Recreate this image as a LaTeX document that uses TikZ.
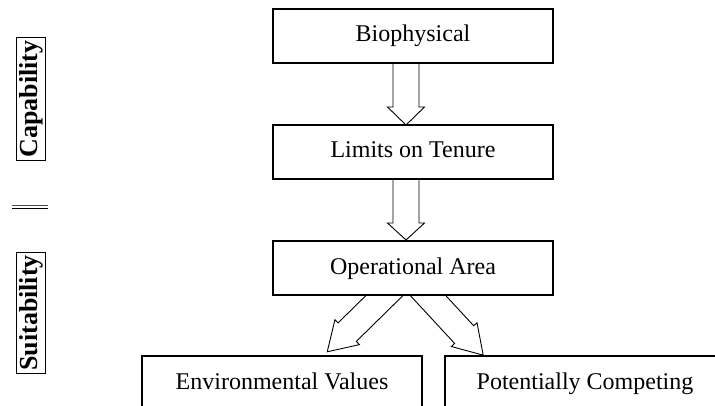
\documentclass[tikz,border=0pt]{standalone}
\usepackage{fontspec}
\setmainfont{Liberation Serif}
\usetikzlibrary{calc}
\begin{document}
\begin{tikzpicture}[x=1pt,y=-1pt,
  boxnode/.style={draw, line width=1.1pt, fill=white, minimum width=280pt, minimum height=54pt, inner sep=0pt, text height=17pt, text depth=5pt, font=\fontsize{24}{28}\selectfont},
  sidelabel/.style={draw, line width=0.9pt, rotate=90, inner sep=3pt, font=\fontsize{26}{30}\selectfont\bfseries},
  blockarrow/.style={draw, line width=0.9pt, fill=white, line join=miter}]
\useasboundingbox (0,0) rectangle (715,406);
\clip (0,0) rectangle (715,406);

% node positions
\coordinate (c1) at (413,36);
\coordinate (c2) at (413,152);
\coordinate (c3) at (413,268);
\coordinate (c4) at (282,383);
\coordinate (c5) at (585,383);

% vertical block arrows
\coordinate (a1) at (406,63);
\begin{scope}[shift={(a1)}, rotate=270, y=1pt]
  \draw[blockarrow] (-2,-13) -- (44,-13) -- (44,-18.5) -- (62,0) -- (44,18.5) -- (44,13) -- (-2,13) -- cycle;
\end{scope}
\coordinate (a2) at (406,179);
\begin{scope}[shift={(a2)}, rotate=270, y=1pt]
  \draw[blockarrow] (-2,-13) -- (44,-13) -- (44,-18.5) -- (61,0) -- (44,18.5) -- (44,13) -- (-2,13) -- cycle;
\end{scope}

% diagonal block arrows
\coordinate (a3) at (385,295);
\begin{scope}[shift={(a3)}, rotate=224.5, y=1pt]
  \draw[blockarrow] (-16,-13) -- (53,-13) -- (53,-17.5) -- (81,0) -- (53,17.5) -- (53,13) -- (-16,13) -- cycle;
\end{scope}
\coordinate (a4) at (427.5,295);
\begin{scope}[shift={(a4)}, rotate=312.8, y=1pt]
  \draw[blockarrow] (-16,-13) -- (54,-13) -- (54,-17.5) -- (82,0) -- (54,17.5) -- (54,13) -- (-16,13) -- cycle;
\end{scope}

% boxes
\node[boxnode] (b1) at (c1) {Biophysical};
\node[boxnode] (b2) at (c2) {Limits on Tenure};
\node[boxnode] (b3) at (c3) {Operational Area};
\node[boxnode] (b4) at (c4) {Environmental Values};
\node[boxnode] (b5) at (c5) {Potentially Competing};

% side labels
\node[sidelabel] (cap) at (31,99) {Capability};
\node[sidelabel] (suit) at (31,313) {Suitability};
\coordinate (d1) at (12,205.5);
\coordinate (d2) at (48,205.5);
\coordinate (d3) at (12,209);
\coordinate (d4) at (48,209);
\draw[line width=1pt, black!70] (d1) -- (d2);
\draw[line width=1pt] (d3) -- (d4);
\end{tikzpicture}
\end{document}
